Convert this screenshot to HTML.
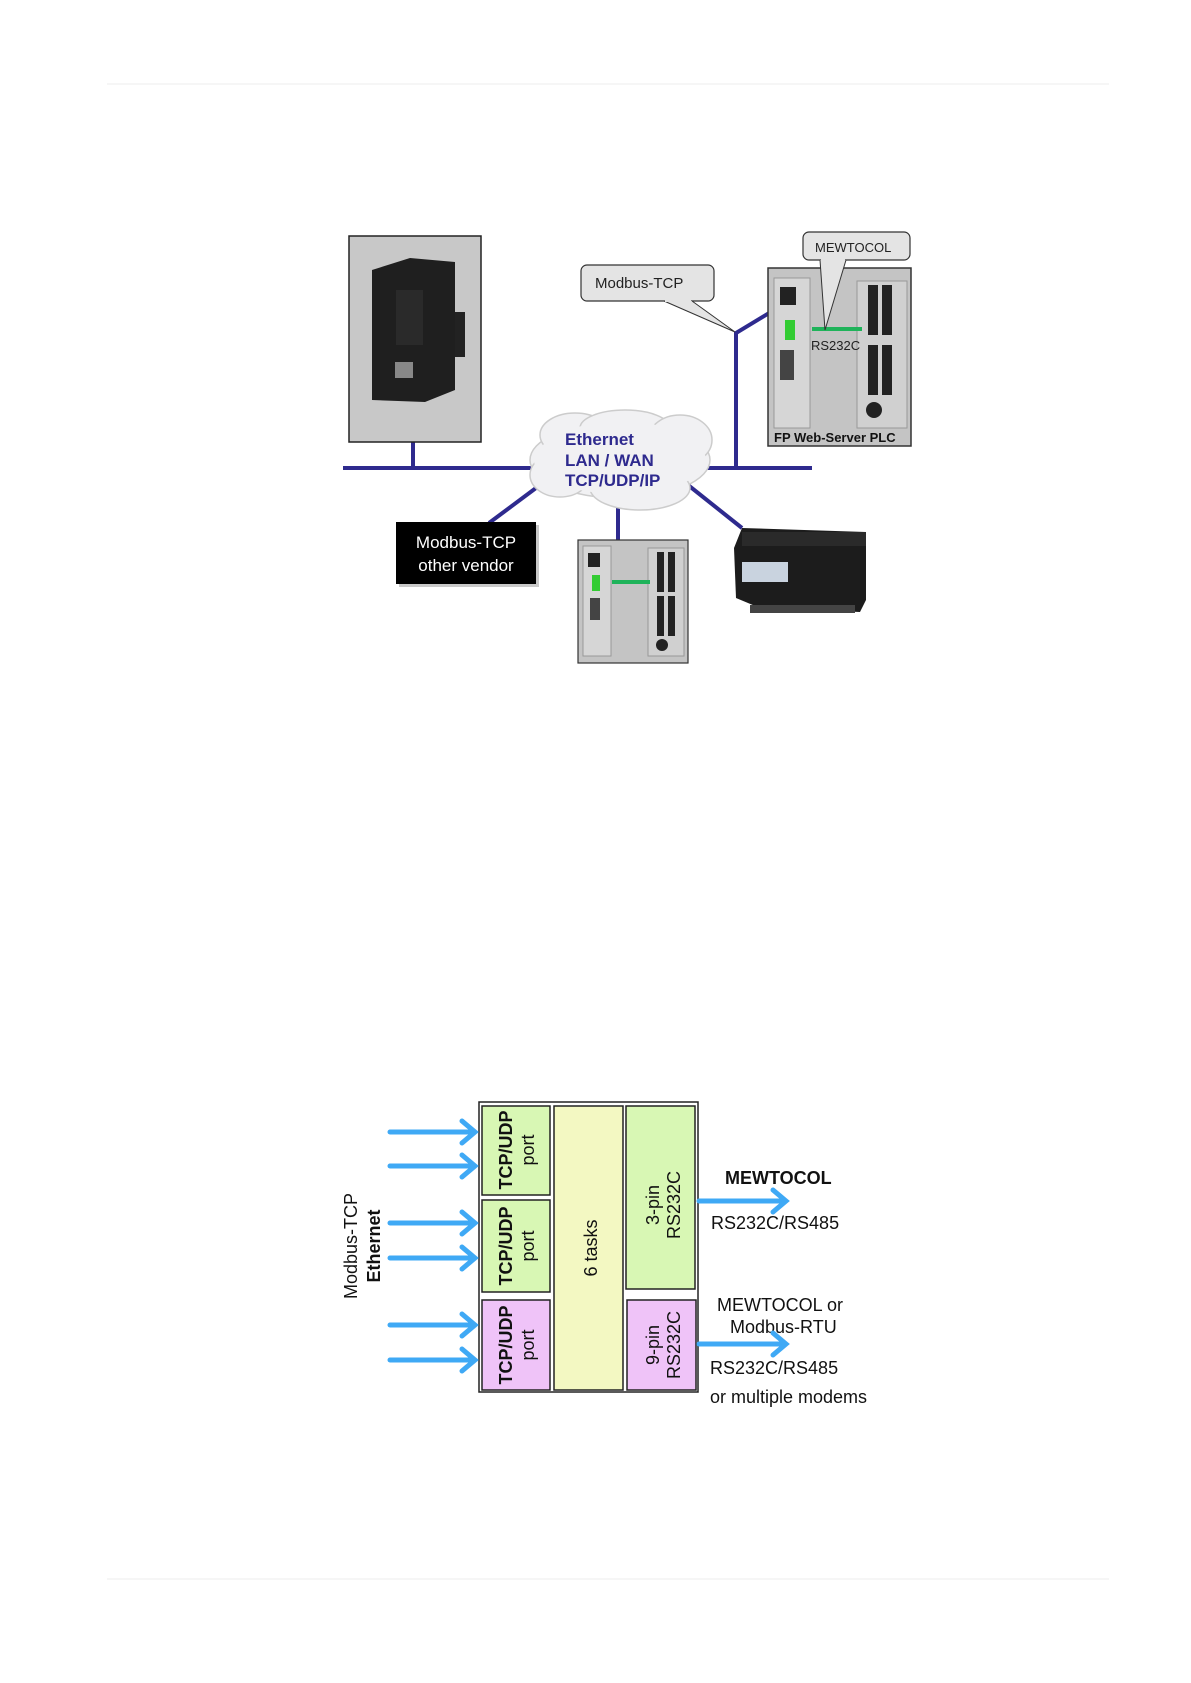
<!DOCTYPE html>
<html><head><meta charset="utf-8"><style>
html,body{margin:0;padding:0;background:#fff}
svg{display:block}
text{font-family:"Liberation Sans",sans-serif}
</style></head><body>
<svg width="1191" height="1683" viewBox="0 0 1191 1683" xmlns="http://www.w3.org/2000/svg">
<line x1="107" y1="84" x2="1109" y2="84" stroke="#eee" stroke-width="1"/>
<line x1="107" y1="1579" x2="1109" y2="1579" stroke="#eee" stroke-width="1"/>

<g stroke="#2e2a8e" stroke-width="4" fill="none">
<line x1="343" y1="468" x2="812" y2="468"/>
<line x1="413" y1="442" x2="413" y2="468"/>
<polyline points="736,468 736,333 789,301"/>
<line x1="540" y1="485" x2="489" y2="523"/>
<line x1="618" y1="505" x2="618" y2="540"/>
<line x1="688" y1="485" x2="742" y2="528"/>
</g>

<rect x="349" y="236" width="132" height="206" fill="#c8c8c8" stroke="#222" stroke-width="1.5"/>
<polygon points="372,270 410,258 455,262 455,390 425,402 372,400" fill="#1f1f1f"/>
<rect x="396" y="290" width="27" height="55" fill="#2a2a2a"/>
<rect x="395" y="362" width="18" height="16" fill="#888"/>
<rect x="455" y="312" width="10" height="45" fill="#222"/>

<rect x="581" y="265" width="133" height="36" rx="6" fill="#e4e4e4" stroke="#333" stroke-width="1.2"/>
<polyline points="664,301 735,332 692,301" fill="#e4e4e4" stroke="#333" stroke-width="1"/>
<line x1="665" y1="301" x2="691" y2="301" stroke="#e4e4e4" stroke-width="2"/>
<text x="595" y="288" font-size="15" fill="#222">Modbus-TCP</text>

<rect x="768" y="268" width="143" height="178" fill="#c4c4c4" stroke="#333" stroke-width="1.5"/>
<rect x="774" y="278" width="36" height="150" fill="#d6d6d6" stroke="#999"/>
<rect x="780" y="287" width="16" height="18" fill="#222"/>
<rect x="785" y="320" width="10" height="20" fill="#3c3"/>
<rect x="780" y="350" width="14" height="30" fill="#444"/>
<rect x="857" y="281" width="50" height="147" fill="#d0d0d0" stroke="#999"/>
<rect x="868" y="285" width="10" height="50" fill="#222"/><rect x="882" y="285" width="10" height="50" fill="#222"/>
<rect x="868" y="345" width="10" height="50" fill="#222"/><rect x="882" y="345" width="10" height="50" fill="#222"/>
<circle cx="874" cy="410" r="8" fill="#222"/>
<line x1="812" y1="329" x2="862" y2="329" stroke="#1fb35a" stroke-width="4"/>
<text x="811" y="350" font-size="13" fill="#222">RS232C</text>
<text x="774" y="442" font-size="13" font-weight="bold" fill="#111">FP Web-Server  PLC</text>
<rect x="803" y="232" width="107" height="28" rx="6" fill="#e4e4e4" stroke="#333" stroke-width="1.2"/>
<polyline points="820,260 825,330 846,260" fill="#e4e4e4" stroke="#333" stroke-width="1"/>
<line x1="821" y1="260" x2="845" y2="260" stroke="#e4e4e4" stroke-width="2"/>
<text x="815" y="252" font-size="13" fill="#222">MEWTOCOL</text>

<g fill="#f1f1f3" stroke="#ccc" stroke-width="1.5">
<ellipse cx="620" cy="460" rx="90" ry="38"/>
<ellipse cx="575" cy="435" rx="35" ry="22"/>
<ellipse cx="625" cy="428" rx="45" ry="18"/>
<ellipse cx="680" cy="440" rx="32" ry="25"/>
<ellipse cx="560" cy="475" rx="30" ry="22"/>
<ellipse cx="640" cy="488" rx="50" ry="22"/>
</g>
<ellipse cx="620" cy="460" rx="86" ry="34" fill="#f1f1f3"/>
<ellipse cx="620" cy="445" rx="60" ry="25" fill="#f1f1f3"/>
<g font-size="17" font-weight="bold" fill="#2e2a8e">
<text x="565" y="445">Ethernet</text>
<text x="565" y="466">LAN / WAN</text>
<text x="565" y="486">TCP/UDP/IP</text>
</g>

<rect x="399" y="525" width="140" height="62" fill="#777" opacity="0.4"/>
<rect x="396" y="522" width="140" height="62" fill="#000"/>
<text x="466" y="548" font-size="17" fill="#fff" text-anchor="middle">Modbus-TCP</text>
<text x="466" y="571" font-size="17" fill="#fff" text-anchor="middle">other vendor</text>

<rect x="578" y="540" width="110" height="123" fill="#c4c4c4" stroke="#333" stroke-width="1.2"/>
<rect x="583" y="546" width="28" height="110" fill="#d6d6d6" stroke="#999"/>
<rect x="588" y="553" width="12" height="14" fill="#222"/>
<rect x="592" y="575" width="8" height="16" fill="#3c3"/>
<rect x="590" y="598" width="10" height="22" fill="#444"/>
<rect x="648" y="548" width="36" height="108" fill="#d0d0d0" stroke="#999"/>
<rect x="657" y="552" width="7" height="40" fill="#222"/><rect x="668" y="552" width="7" height="40" fill="#222"/>
<rect x="657" y="596" width="7" height="40" fill="#222"/><rect x="668" y="596" width="7" height="40" fill="#222"/>
<circle cx="662" cy="645" r="6" fill="#222"/>
<line x1="612" y1="582" x2="650" y2="582" stroke="#1fb35a" stroke-width="4"/>

<polygon points="742,528 866,532 866,600 860,612 760,608 736,598 734,548" fill="#1c1c1c"/>
<rect x="742" y="532" width="124" height="14" fill="#2a2a2a"/>
<rect x="742" y="562" width="46" height="20" fill="#c9d3df"/>
<rect x="750" y="605" width="105" height="8" fill="#444"/>

<rect x="479" y="1102" width="219" height="290" fill="#fff" stroke="#222" stroke-width="1.5"/>
<g stroke="#222" stroke-width="1.5">
<rect x="482" y="1106" width="68" height="89" fill="#d8f7b4"/>
<rect x="482" y="1200" width="68" height="92" fill="#d8f7b4"/>
<rect x="482" y="1300" width="68" height="90" fill="#efc3f8"/>
<rect x="554" y="1106" width="69" height="284" fill="#f3f8c2"/>
<rect x="626" y="1106" width="69" height="183" fill="#d8f7b4"/>
<rect x="627" y="1300" width="69" height="90" fill="#efc3f8"/>
</g>
<g font-size="18" fill="#111">
<text transform="translate(512,1150) rotate(-90)" text-anchor="middle" font-weight="bold">TCP/UDP</text>
<text transform="translate(534,1150) rotate(-90)" text-anchor="middle">port</text>
<text transform="translate(512,1246) rotate(-90)" text-anchor="middle" font-weight="bold">TCP/UDP</text>
<text transform="translate(534,1246) rotate(-90)" text-anchor="middle">port</text>
<text transform="translate(512,1345) rotate(-90)" text-anchor="middle" font-weight="bold">TCP/UDP</text>
<text transform="translate(534,1345) rotate(-90)" text-anchor="middle">port</text>
<text transform="translate(597,1248) rotate(-90)" text-anchor="middle">6 tasks</text>
<text transform="translate(659,1205) rotate(-90)" text-anchor="middle">3-pin</text>
<text transform="translate(680,1205) rotate(-90)" text-anchor="middle">RS232C</text>
<text transform="translate(659,1345) rotate(-90)" text-anchor="middle">9-pin</text>
<text transform="translate(680,1345) rotate(-90)" text-anchor="middle">RS232C</text>
<text transform="translate(357,1246) rotate(-90)" text-anchor="middle">Modbus-TCP</text>
<text transform="translate(380,1246) rotate(-90)" text-anchor="middle" font-weight="bold">Ethernet</text>
<text x="725" y="1184" font-weight="bold">MEWTOCOL</text>
<text x="711" y="1229">RS232C/RS485</text>
<text x="717" y="1311">MEWTOCOL or</text>
<text x="730" y="1333">Modbus-RTU</text>
<text x="710" y="1374">RS232C/RS485</text>
<text x="710" y="1403">or multiple modems</text>
</g>
<g stroke="#3fa9f5" stroke-width="5" fill="none" stroke-linecap="round">
<line x1="390" y1="1132" x2="474" y2="1132"/><polyline points="462,1121 475,1132 462,1143"/>
<line x1="390" y1="1166" x2="474" y2="1166"/><polyline points="462,1155 475,1166 462,1177"/>
<line x1="390" y1="1223" x2="474" y2="1223"/><polyline points="462,1212 475,1223 462,1234"/>
<line x1="390" y1="1258" x2="474" y2="1258"/><polyline points="462,1247 475,1258 462,1269"/>
<line x1="390" y1="1325" x2="474" y2="1325"/><polyline points="462,1314 475,1325 462,1336"/>
<line x1="390" y1="1360" x2="474" y2="1360"/><polyline points="462,1349 475,1360 462,1371"/>
<line x1="699" y1="1201" x2="785" y2="1201"/><polyline points="773,1190 786,1201 773,1212"/>
<line x1="699" y1="1344" x2="785" y2="1344"/><polyline points="773,1333 786,1344 773,1355"/>
</g>
</svg>
</body></html>
